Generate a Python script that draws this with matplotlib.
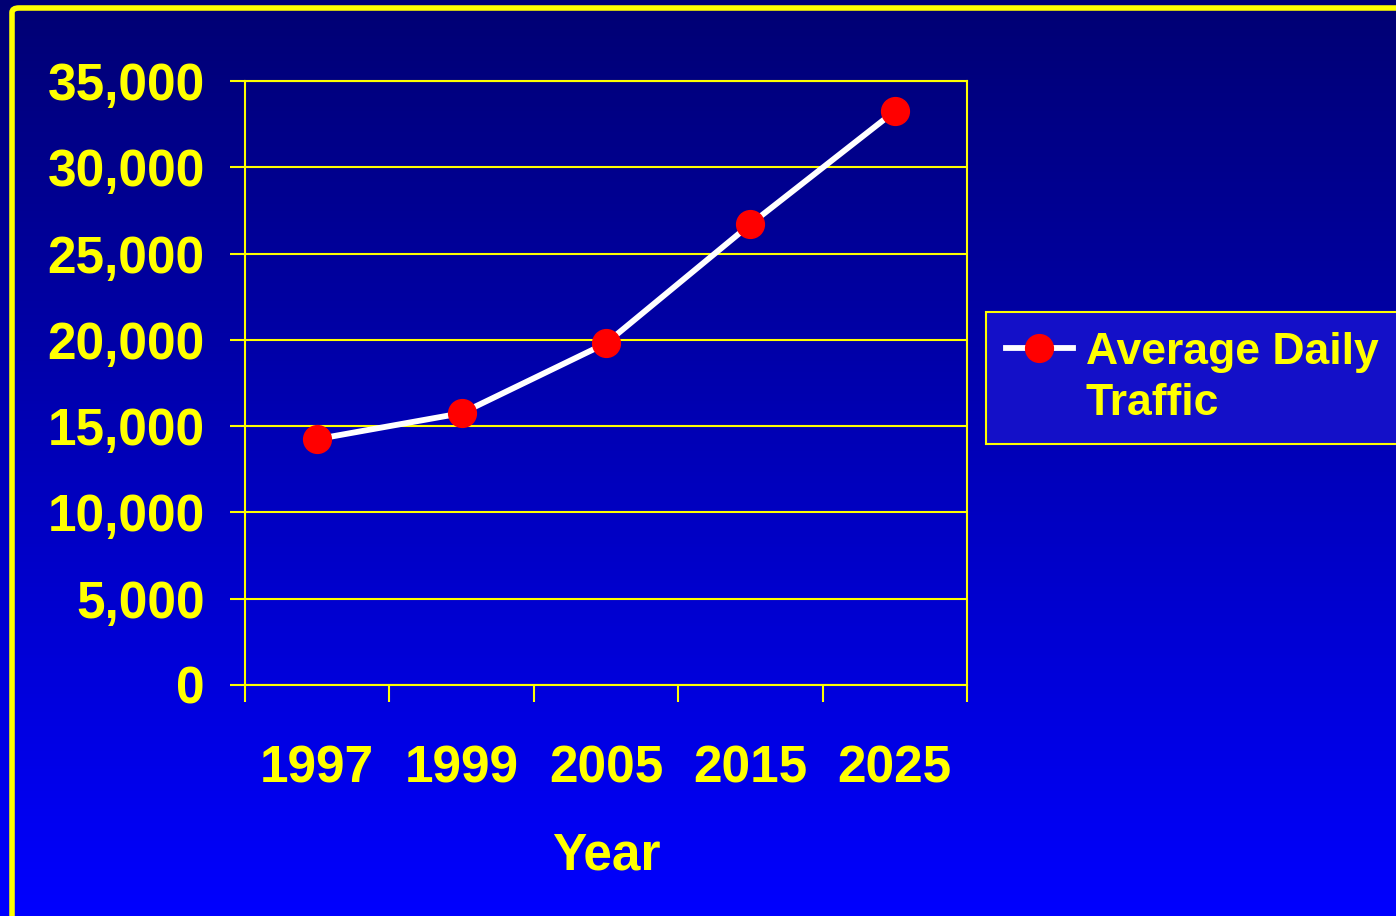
import numpy as np
from matplotlib import pyplot as plt
from matplotlib.patches import FancyBboxPatch
from matplotlib.ticker import FuncFormatter

plt.rcParams['font.family'] = ['Liberation Sans', 'DejaVu Sans']
plt.rcParams['font.weight'] = 'bold'

# data
years = ['1997', '1999', '2005', '2015', '2025']
traffic = [14250, 15750, 19800, 26700, 33250]
series_name = 'Average Daily\nTraffic'

YELLOW = '#FFFF00'

fig = plt.figure(figsize=(13.96, 9.16), dpi=100)

# background gradient, dark navy at top -> bright blue at bottom
bg = fig.add_axes([0, 0, 1, 1], zorder=-10)
grad = np.linspace(0, 1, 256).reshape(-1, 1)
top = np.array([0, 0, 115]) / 255
bottom = np.array([0, 0, 255]) / 255
img = top + (bottom - top) * grad[:, :, None]
bg.imshow(img, aspect='auto', extent=[0, 1, 0, 1], origin='upper')
bg.set_axis_off()

# yellow border (left and top)
border = FancyBboxPatch((12 / 1396, -0.05), 1.1, 0.05 + (916 - 8) / 916,
                        boxstyle='round,pad=0,rounding_size=0.005',
                        transform=fig.transFigure, fill=False,
                        edgecolor=YELLOW, linewidth=4, zorder=-5)
fig.patches.append(border)

ax = fig.add_axes([245 / 1396, (916 - 685) / 916, (967 - 245) / 1396, (685 - 81) / 916])
ax.set_facecolor('none')

x = np.arange(len(years)) + 0.5
ax.plot(x, traffic, color='white', linewidth=4.2, marker='o', markersize=20,
        markerfacecolor='red', markeredgecolor='red', label=series_name, zorder=3)

ax.set_xlim(0, len(years))
ax.set_ylim(0, 35000)
ax.set_yticks(np.arange(0, 35001, 5000))
ax.yaxis.set_major_formatter(FuncFormatter(lambda v, p: '{:,.0f}'.format(v)))
ax.grid(axis='y', color=YELLOW, linewidth=1.5)
ax.set_axisbelow(True)

# ticks on category boundaries, labels at category centres
ax.set_xticks(np.arange(len(years) + 1))
ax.set_xticklabels([])
ax.set_xticks(x, minor=True)
ax.set_xticklabels(years, minor=True)
ax.tick_params(axis='x', which='major', length=12, width=1.5, color=YELLOW, direction='out')
ax.tick_params(axis='x', which='minor', length=0, pad=43, labelsize=37, labelcolor=YELLOW)
ax.tick_params(axis='y', length=11, width=1.5, color=YELLOW, direction='out',
               pad=18, labelsize=37, labelcolor=YELLOW)

for s in ax.spines.values():
    s.set_color(YELLOW)
    s.set_linewidth(1.5)

ax.set_xlabel('Year', fontsize=37, color=YELLOW, fontweight='bold', labelpad=27)

leg = fig.legend(loc='upper left', bbox_to_anchor=(986 / 1396, (916 - 312) / 916),
                 fontsize=32, frameon=True, fancybox=False, handlelength=1.5,
                 borderpad=0.45, handletextpad=0.3, borderaxespad=0)
leg.get_frame().set_facecolor('#1410C8')
leg.get_frame().set_edgecolor(YELLOW)
leg.get_frame().set_linewidth(1.5)
leg.get_frame().set_alpha(None)
for t in leg.get_texts():
    t.set_color(YELLOW)
    t.set_linespacing(1.3)
# put the handle next to the first text line, like the original
for col in leg._legend_handle_box.get_children():
    for row in col.get_children():
        row.align = 'top'

fig.savefig('out.png', dpi=100)
